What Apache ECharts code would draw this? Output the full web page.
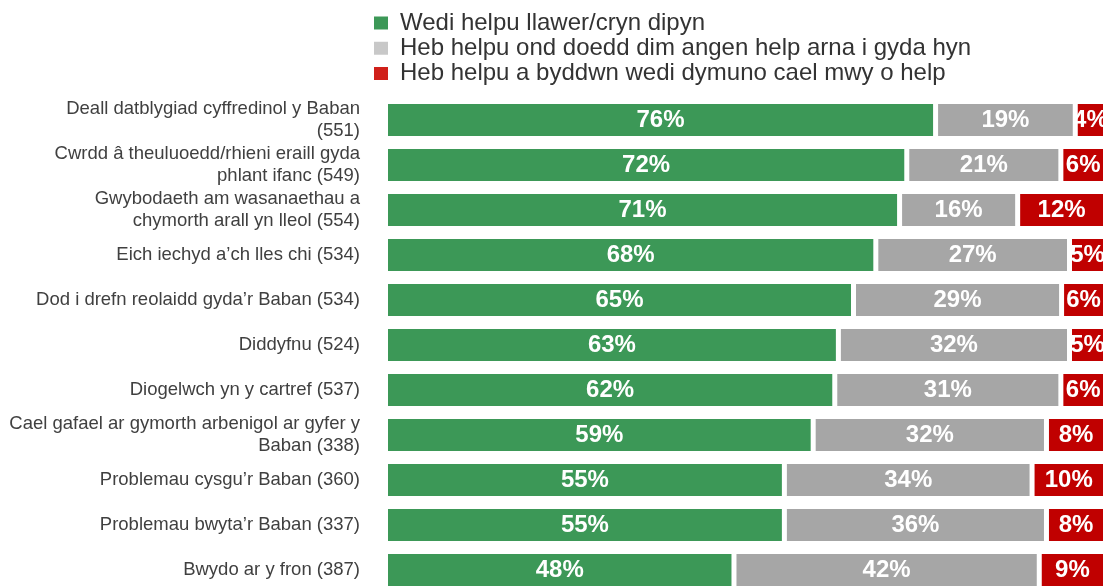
<!DOCTYPE html>
<html><head><meta charset="utf-8">
<script src="https://cdn.jsdelivr.net/npm/echarts@6/dist/echarts.min.js"></script>
<style>html,body{margin:0;padding:0;background:#fff}#c{width:1105px;height:587px}</style>
</head><body><div id="c"></div>
<script>
const categories = [
  "Deall datblygiad cyffredinol y Baban\n(551)",
  "Cwrdd â theuluoedd/rhieni eraill gyda\nphlant ifanc (549)",
  "Gwybodaeth am wasanaethau a\nchymorth arall yn lleol (554)",
  "Eich iechyd a’ch lles chi (534)",
  "Dod i drefn reolaidd gyda’r Baban (534)",
  "Diddyfnu (524)",
  "Diogelwch yn y cartref (537)",
  "Cael gafael ar gymorth arbenigol ar gyfer y\nBaban (338)",
  "Problemau cysgu’r Baban (360)",
  "Problemau bwyta’r Baban (337)",
  "Bwydo ar y fron (387)"
];
const seriesNames = [
  "Wedi helpu llawer/cryn dipyn",
  "Heb helpu ond doedd dim angen help arna i gyda hyn",
  "Heb helpu a byddwn wedi dymuno cael mwy o help"
];
// percentages (unrounded estimates; labels show rounded values)
const helped = [76.4, 72.4, 71.4, 68.1, 65.0, 62.9, 62.4, 59.4, 55.4, 55.4, 48.4];
const notNeeded = [19.4, 21.4, 16.4, 26.9, 28.9, 32.1, 31.4, 32.4, 34.4, 36.4, 42.4];
const wantedMore = [4.2, 6.2, 12.2, 5.0, 6.1, 5.0, 6.2, 8.2, 10.2, 8.2, 9.2];

const colors = ["#3c9857", "#a6a6a6", "#c00000"];
const legendColors = ["#3c9857", "#c8c8c8", "#d0201a"];
const values = [helped, notNeeded, wantedMore];

const chart = echarts.init(document.getElementById('c'), null, {renderer: 'canvas'});
chart.setOption({
  animation: false,
  legend: {
    orient: 'vertical',
    left: 367, top: 5.5,
    itemWidth: 16, itemHeight: 15, itemGap: 0.3,
    icon: 'rect',
    textStyle: {fontFamily: 'Liberation Sans, Arial, sans-serif', fontSize: 24, lineHeight: 25, color: '#333333', padding: [0, 0, 0, 6]},
    data: seriesNames.map((n, i) => ({name: n, itemStyle: {color: legendColors[i]}}))
  },
  grid: {left: 385.5, top: 97.5, width: 720, height: 495, containLabel: false, outerBoundsMode: 'none'},
  xAxis: {type: 'value', min: 0, max: 100, show: false},
  yAxis: {
    type: 'category', inverse: true, data: categories,
    axisLine: {show: false}, axisTick: {show: false},
    axisLabel: {
      interval: 0, hideOverlap: false,
      margin: 25.5, color: '#404040', fontSize: 18.5, lineHeight: 22,
      fontFamily: 'Liberation Sans, Arial, sans-serif', align: 'right'
    }
  },
  series: seriesNames.map((n, i) => ({
    name: n, type: 'bar', stack: 'all', barWidth: 37,
    itemStyle: {color: colors[i], borderColor: '#ffffff', borderWidth: 2.5},
    label: {
      show: true, position: 'inside', color: '#ffffff',
      fontFamily: 'Liberation Sans, Arial, sans-serif', fontWeight: 'bold', fontSize: 24,
      formatter: p => Math.round(p.value) + '%'
    },
    data: values[i]
  }))
});
</script></body></html>
